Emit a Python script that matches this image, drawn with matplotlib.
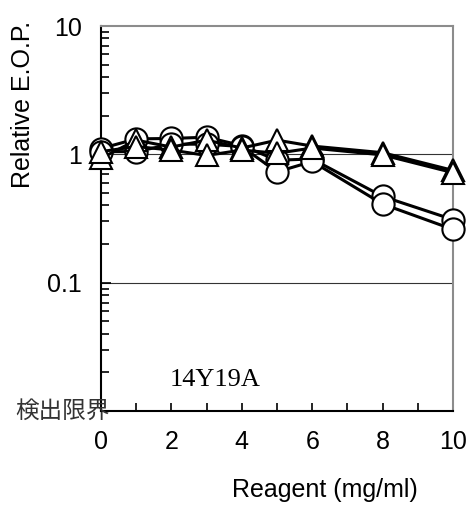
import numpy as np
import matplotlib.pyplot as plt
from matplotlib.ticker import FixedLocator, NullFormatter, LogLocator

plt.rcParams['font.family'] = ['Liberation Sans', 'Noto Sans CJK JP']

# data
reagent = [0, 1, 2, 3, 4, 5, 6, 8, 10]
circ_a = [1.11, 1.32, 1.33, 1.36, 1.17, 0.90, 0.92, 0.47, 0.31]
circ_b = [1.05, 1.05, 1.20, 1.20, 1.15, 0.73, 0.88, 0.41, 0.26]
tri_a = [0.93, 1.29, 1.14, 1.29, 1.12, 1.29, 1.16, 1.03, 0.75]
tri_b = [1.05, 1.15, 1.08, 0.98, 1.08, 1.02, 1.12, 0.99, 0.72]
y_ticks = [0.1, 1, 10]
y_tick_labels = ['0.1', '1', '10']
x_ticks = [0, 2, 4, 6, 8, 10]
strain = '14Y19A'
limit_label = '検出限界'

fig = plt.figure(figsize=(4.71, 5.09), dpi=100)
ax = fig.add_axes([0.2144, 0.1925, 0.7474, 0.7564])

ax.set_yscale('log')
ax.set_ylim(0.01, 10)
ax.set_xlim(0, 10)

# horizontal reference lines
for v in [1, 0.1]:
    ax.axhline(v, color='#333333', lw=0.8, zorder=1)

style = dict(color='black', lw=2.2, markersize=16, markerfacecolor='white',
             markeredgecolor='black', markeredgewidth=1.5, clip_on=False)
ax.plot(reagent, circ_a, marker='o', zorder=3, **style)
ax.plot(reagent, circ_b, marker='o', zorder=3, **style)
ax.plot(reagent, tri_a, marker='^', zorder=4, **style)
ax.plot(reagent, tri_b, marker='^', zorder=4, **style)

ax.yaxis.set_major_locator(FixedLocator(y_ticks))
ax.set_yticklabels(y_tick_labels)
ax.yaxis.set_minor_locator(LogLocator(base=10, subs=np.arange(2, 10)))
ax.yaxis.set_minor_formatter(NullFormatter())
ax.set_xticks(x_ticks)
ax.set_xticks(range(0, 11), minor=True)

ax.tick_params(axis='both', which='both', direction='in', top=False, right=False,
               labelsize=18, width=1.2)
ax.tick_params(axis='y', which='major', length=7, pad=14)
ax.tick_params(axis='y', which='minor', length=6)
ax.tick_params(axis='x', which='both', length=6, pad=14)

for side in ['left', 'bottom']:
    ax.spines[side].set_color('black')
    ax.spines[side].set_linewidth(1.5)
for side in ['top', 'right']:
    ax.spines[side].set_color('#8c8c8c')
    ax.spines[side].set_linewidth(1.5)

ax.text(-0.222, 0.795, 'Relative E.O.P.', transform=ax.transAxes, fontsize=18,
        rotation=90, ha='center', va='center')
ax.text(0.636, -0.205, 'Reagent (mg/ml)', transform=ax.transAxes, fontsize=18,
        ha='center', va='center')

ax.text(0.324, 0.08, strain, transform=ax.transAxes, fontsize=19,
        family='Liberation Serif', ha='center', va='center')
ax.text(0.026, 0.01, limit_label, transform=ax.get_yaxis_transform(),
        fontsize=17, color='#333333', ha='right', va='center', clip_on=False,
        family=['Noto Sans CJK JP'])

fig.savefig('out.png', dpi=100)
